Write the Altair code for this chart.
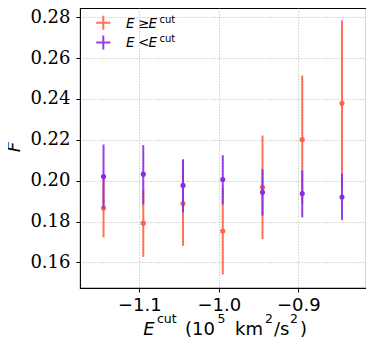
import altair as alt
import pandas as pd

# ---- data ----
x_cut = [-1.145, -1.095, -1.045, -0.995, -0.945, -0.895, -0.845]

F_above = [0.1866, 0.1792, 0.1888, 0.1754, 0.1967, 0.2201, 0.2379]
lo_above = [0.1722, 0.1627, 0.1681, 0.1541, 0.1714, 0.1887, 0.1973]
hi_above = [0.2010, 0.1957, 0.2095, 0.1967, 0.2221, 0.2515, 0.2785]

F_below = [0.2020, 0.2032, 0.1977, 0.2006, 0.1943, 0.1937, 0.1920]
lo_below = [0.1863, 0.1884, 0.1845, 0.1884, 0.1829, 0.1820, 0.1808]
hi_below = [0.2177, 0.2174, 0.2105, 0.2125, 0.2055, 0.2050, 0.2034]

x_ticks = [-1.1, -1.0, -0.9]
y_ticks = [0.16, 0.18, 0.20, 0.22, 0.24, 0.26, 0.28]

ORANGE = "#ff6347"
PURPLE = "#8a2be2"

df_a = pd.DataFrame({"x": x_cut, "F": F_above, "lo": lo_above, "hi": hi_above})
df_b = pd.DataFrame({"x": x_cut, "F": F_below, "lo": lo_below, "hi": hi_below})

W, H = 286, 280
xscale = alt.Scale(domain=[-1.1746, -0.8148], nice=False, zero=False)
yscale = alt.Scale(domain=[0.14746, 0.28454], nice=False, zero=False)

xaxis = alt.Axis(values=x_ticks, format=".1f", title="", labelFont="DejaVu Sans",
                 labelFontSize=18, labelColor="black", tickColor="black", tickSize=4,
                 labelPadding=4, domain=False, grid=True, gridColor="#bdbdbd",
                 gridDash=[1.2, 1.6], gridWidth=0.9, labelFlush=False)
yaxis = alt.Axis(values=y_ticks, format=".2f", title="",
                 labelFont="'DejaVu Serif', 'Liberation Serif', serif",
                 labelFontSize=18, labelColor="black", tickColor="black", tickSize=4,
                 labelPadding=6, domain=False, grid=True, gridColor="#bdbdbd",
                 gridDash=[1.2, 1.6], gridWidth=0.9, labelFlush=False)


def series(df, color, with_axes):
    base = alt.Chart(df)
    if with_axes:
        xe = alt.X("x:Q", scale=xscale, axis=xaxis)
        ye = alt.Y("lo:Q", scale=yscale, axis=yaxis)
    else:
        xe = alt.X("x:Q", scale=xscale)
        ye = alt.Y("lo:Q", scale=yscale)
    bars = base.mark_rule(color=color, strokeWidth=2, opacity=0.9).encode(
        x=xe, y=ye, y2="hi:Q")
    pts = base.mark_point(color=color, filled=True, shape="circle", size=26, opacity=1).encode(
        x=alt.X("x:Q", scale=xscale), y=alt.Y("F:Q", scale=yscale))
    return bars + pts


one = pd.DataFrame({"k": [0]})


def txt(s, x, y, size, italic=False, align="left", angle=0, baseline="alphabetic"):
    kw = dict(text=s, font="DejaVu Sans", fontSize=size, color="black",
              align=align, baseline=baseline)
    if italic:
        kw["fontStyle"] = "italic"
    if angle:
        kw["angle"] = angle
    return alt.Chart(one).mark_text(**kw).encode(x=alt.value(x), y=alt.value(y))


plus_path = "M-1,0L1,0M0,-1L0,1"


def plus(color, x, y):
    return alt.Chart(one).mark_point(shape=plus_path, color=color, filled=False,
                                     strokeWidth=2, size=200, opacity=0.9).encode(
        x=alt.value(x), y=alt.value(y))


legend = [
    plus(ORANGE, 23.3, 14.7),
    plus(PURPLE, 23.3, 34.5),
    txt("E", 46, 19.7, 13.5, italic=True),
    txt("≥", 58, 19.7, 13.5),
    txt("E", 68.5, 19.7, 13.5, italic=True),
    txt("cut", 79.5, 14.8, 10),
    txt("E", 46, 39.2, 13.5, italic=True),
    txt("<", 58, 39.2, 13.5),
    txt("E", 68.5, 39.2, 13.5, italic=True),
    txt("cut", 79.5, 34.3, 10),
]

xtitle = [
    txt("E", 63.3, 327, 18, italic=True),
    txt("cut", 77, 314.5, 12.5),
    txt("(10", 105, 327, 18),
    txt("5", 137.5, 315.3, 12.5),
    txt("km", 155, 327, 18),
    txt("2", 185, 315.3, 12.5),
    txt("/s", 194, 327, 18),
    txt("2", 210, 315.3, 12.5),
    txt(")", 220, 327, 18),
]

ytitle = [txt("F", -65, 139, 18, italic=True, align="center", angle=270, baseline="middle")]

chart = alt.layer(
    series(df_a, ORANGE, True),
    series(df_b, PURPLE, False),
    *legend, *xtitle, *ytitle,
).properties(
    width=W, height=H,
    autosize=alt.AutoSizeParams(type="none"),
    padding={"left": 72, "top": 0, "right": 0, "bottom": 51},
).configure(background="white").configure_view(stroke="black", strokeWidth=1.1)

chart.save("out.html", embed_options={"renderer": "svg", "actions": False})
